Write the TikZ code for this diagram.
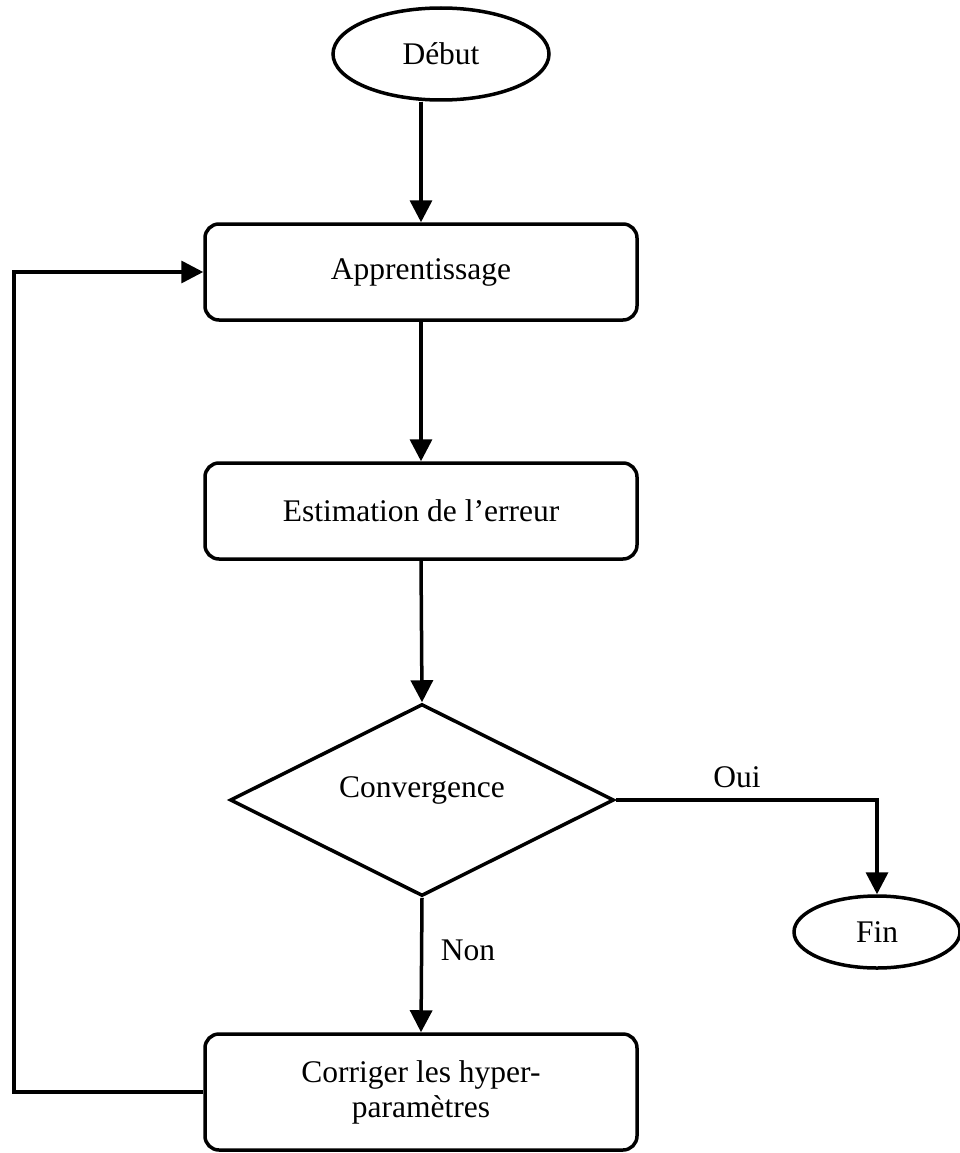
\documentclass[tikz,border=0pt]{standalone}
\usepackage{fontspec}
\setmainfont{Liberation Serif}
\usetikzlibrary{shapes.geometric,arrows.meta}
\begin{document}
\begin{tikzpicture}[x=1pt,y=-1pt,
  every node/.style={font=\fontsize{31.5}{35}\selectfont},
  flowline/.style={line width=3.5pt},
  flowarrow/.style={flowline,-{Triangle[length=22pt,width=22pt]}},
  stepbox/.style={draw,line width=3.5pt,rounded corners=14pt,minimum width=432pt,
    minimum height=96pt,inner sep=0pt,align=center},
  terminal/.style={draw,ellipse,line width=3.5pt,inner sep=0pt},
  decision/.style={draw,diamond,line width=3.5pt,minimum width=384pt,
    minimum height=192pt,inner sep=0pt},
  lbl/.style={inner sep=0pt,anchor=base}
]
\useasboundingbox (0,0) rectangle (960,1153);

% process steps
\node[terminal,minimum width=216pt,minimum height=92pt] (debut) at (441,54) {Début};
\node[stepbox] (appr) at (421,272) {Apprentissage};
\node[stepbox] (estim) at (421,511) {Estimation de l’erreur};
\node[decision] (conv) at (422,800) {};
\node[lbl] (convtxt) at (422,797) {Convergence};
\node[terminal,minimum width=166pt,minimum height=72pt] (fin) at (877,932) {Fin};
\node[stepbox,minimum height=116pt] (corr) at (421,1092) {Corriger les hyper-\\paramètres};

% branch labels
\node[lbl] (oui) at (737,787) {Oui};
\node[lbl] (non) at (468,960) {Non};

% x position of the feedback loop
\coordinate (loopx) at (14,0);

% connectors
\draw[flowarrow] (appr.north |- debut.south) -- (appr.north);
\draw[flowarrow] (appr.south) -- (estim.north);
\draw[flowarrow] (estim.south) -- (conv.north);
\draw[flowarrow] (conv.east) -| (fin.north);
\draw[flowarrow] (conv.south) -- (corr.north);
\draw[flowarrow] (corr.west) -- (corr.west -| loopx) |- (appr.west);
\end{tikzpicture}
\end{document}
